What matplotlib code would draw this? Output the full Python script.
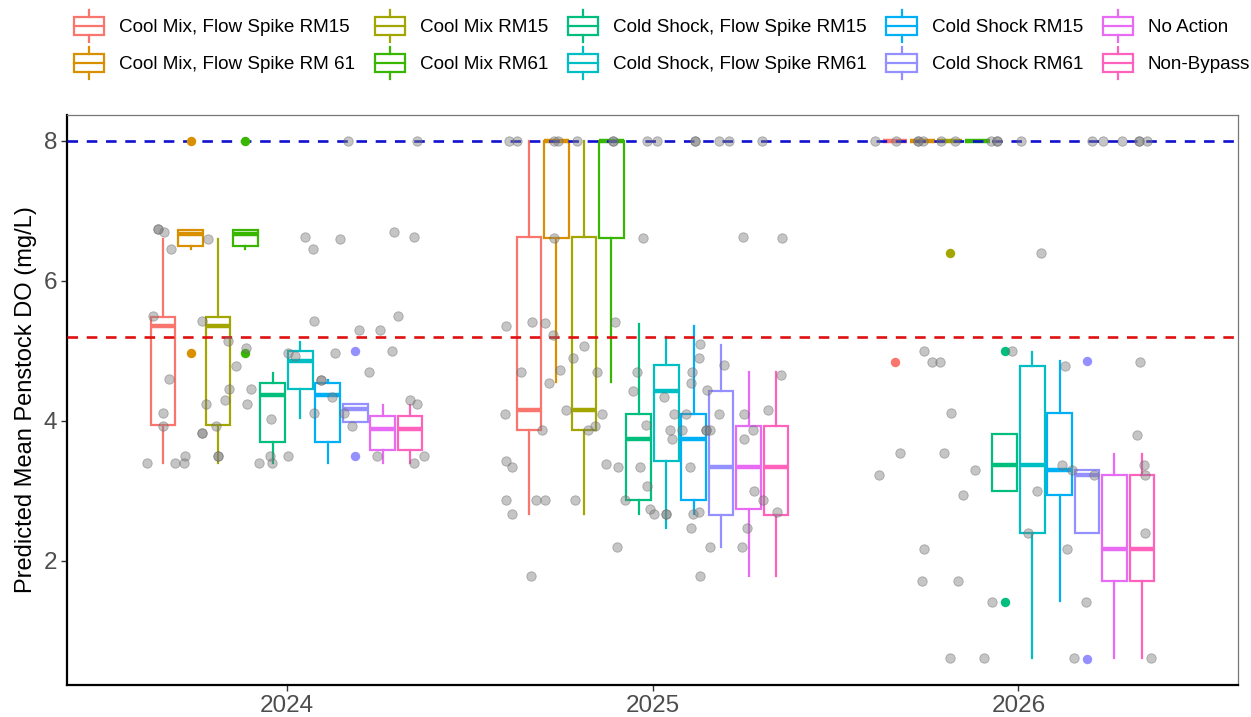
import numpy as np
import matplotlib.pyplot as plt
from matplotlib.patches import Patch, Rectangle
from matplotlib.lines import Line2D
from matplotlib.legend_handler import HandlerBase

plt.rcParams['font.family'] = ['Liberation Sans', 'DejaVu Sans']

years = ['2024', '2025', '2026']
groups = ['Cool Mix, Flow Spike RM15', 'Cool Mix, Flow Spike RM 61', 'Cool Mix RM15',
          'Cool Mix RM61', 'Cold Shock, Flow Spike RM15', 'Cold Shock, Flow Spike RM61',
          'Cold Shock RM15', 'Cold Shock RM61', 'No Action', 'Non-Bypass']
colors = ['#F8766D', '#D89000', '#A3A500', '#39B600', '#00BF7D',
          '#00BFC4', '#00B0F6', '#9590FF', '#E76BF3', '#FF62BC']

# box stats, one row per year, one value per group
q1 = [[3.94, 6.49, 3.94, 6.49, 3.70, 4.45, 3.70, 3.98, 3.58, 3.58],
      [3.87, 6.61, 3.87, 6.61, 2.87, 3.42, 2.87, 2.65, 2.74, 2.65],
      [8.00, 8.00, 8.00, 8.00, 3.00, 2.39, 2.94, 2.39, 1.71, 1.71]]
med = [[5.36, 6.67, 5.36, 6.67, 4.37, 4.85, 4.37, 4.17, 3.88, 3.88],
       [4.15, 8.00, 4.15, 8.00, 3.74, 4.43, 3.74, 3.33, 3.33, 3.33],
       [8.00, 8.00, 8.00, 8.00, 3.37, 3.37, 3.30, 3.22, 2.16, 2.16]]
q3 = [[5.48, 6.73, 5.48, 6.73, 4.54, 5.00, 4.54, 4.24, 4.06, 4.06],
      [6.63, 8.00, 6.63, 8.00, 4.09, 4.80, 4.09, 4.43, 3.93, 3.93],
      [8.00, 8.00, 8.00, 8.00, 3.81, 4.78, 4.11, 3.30, 3.22, 3.22]]
whislo = [[3.39, 6.46, 3.39, 6.46, 3.39, 4.04, 3.39, 3.98, 3.40, 3.40],
          [2.66, 4.55, 2.66, 4.55, 2.66, 2.46, 2.66, 2.20, 1.78, 1.78],
          [8.00, 8.00, 8.00, 8.00, 3.00, 0.61, 1.42, 2.39, 0.61, 0.61]]
whishi = [[6.59, 6.73, 6.59, 6.73, 4.68, 5.13, 4.58, 4.24, 4.23, 4.23],
          [8.00, 8.00, 8.00, 8.00, 5.38, 5.19, 5.35, 5.08, 4.70, 4.70],
          [8.00, 8.00, 8.00, 8.00, 3.81, 4.98, 4.85, 3.30, 3.53, 3.53]]

out_year = [0, 0, 0, 0, 0, 0, 2, 2, 2, 2, 2, 2]
out_group = [1, 1, 3, 3, 7, 7, 0, 2, 4, 4, 7, 7]
out_value = [8.0, 4.96, 8.0, 4.96, 5.0, 3.49, 4.84, 6.39, 5.0, 1.41, 4.85, 0.59]

# raw runs (jitter offset, DO)
gray_2024 = [(-0.352, 6.74), (-0.352, 6.74), (-0.334, 6.70), (-0.316, 6.45), (-0.214, 6.60),
             (0.051, 6.63), (0.071, 6.45), (0.147, 6.60), (0.293, 6.70), (0.349, 6.63),
             (0.167, 8.0), (0.356, 8.0), (-0.366, 5.50), (-0.230, 5.42), (0.075, 5.42),
             (0.304, 5.50), (0.197, 5.30), (0.255, 5.30), (-0.160, 5.14), (0.288, 5.00),
             (-0.111, 5.04), (0.005, 4.96), (0.024, 4.92), (0.132, 4.96), (-0.137, 4.78),
             (0.226, 4.69), (-0.321, 4.60), (-0.158, 4.45), (-0.096, 4.45), (0.093, 4.58),
             (0.093, 4.58), (0.123, 4.34), (-0.169, 4.29), (-0.220, 4.24), (-0.108, 4.24),
             (0.336, 4.29), (0.356, 4.24), (0.158, 4.11), (0.075, 4.11), (-0.337, 4.11),
             (-0.042, 4.03), (0.179, 3.93), (-0.337, 3.93), (-0.192, 3.93), (-0.230, 3.82),
             (-0.230, 3.82), (-0.278, 3.49), (-0.187, 3.49), (-0.187, 3.49), (-0.046, 3.49),
             (0.005, 3.49), (0.247, 3.49), (0.376, 3.49), (-0.382, 3.39), (-0.304, 3.39),
             (-0.279, 3.39), (-0.076, 3.39), (-0.040, 3.39), (0.349, 3.39)]
gray_2025 = [(-0.392, 8.0), (-0.370, 8.0), (-0.270, 8.0), (-0.258, 8.0), (-0.207, 8.0),
             (-0.109, 8.0), (-0.109, 8.0), (-0.016, 8.0), (0.011, 8.0), (0.115, 8.0),
             (0.115, 8.0), (0.181, 8.0), (0.210, 8.0), (0.299, 8.0),
             (-0.270, 6.61), (-0.025, 6.61), (0.248, 6.63), (0.353, 6.61),
             (-0.399, 5.35), (-0.329, 5.41), (-0.293, 5.39), (-0.102, 5.41), (-0.272, 5.23),
             (-0.188, 5.06), (-0.217, 4.90), (-0.252, 4.73), (-0.358, 4.70), (-0.283, 4.54),
             (-0.152, 4.69), (-0.043, 4.70), (-0.052, 4.43), (0.131, 5.09), (0.128, 4.90),
             (0.196, 4.80), (0.109, 4.70), (0.105, 4.54), (0.149, 4.44), (0.351, 4.65),
             (0.031, 4.34), (-0.404, 4.09), (-0.236, 4.15), (-0.139, 4.09), (0.060, 4.09),
             (0.092, 4.09), (0.181, 4.09), (0.250, 4.09), (0.316, 4.15), (-0.301, 3.87),
             (-0.157, 3.93), (-0.175, 3.87), (-0.018, 3.94), (0.047, 3.87), (0.080, 3.87),
             (0.145, 3.87), (0.145, 3.87), (0.158, 3.87), (0.274, 3.87), (0.052, 3.74),
             (0.251, 3.74), (-0.399, 3.42), (-0.383, 3.33), (-0.127, 3.38), (-0.093, 3.33),
             (-0.035, 3.33), (0.103, 3.33), (-0.016, 3.06), (0.278, 3.00), (-0.399, 2.87),
             (-0.319, 2.87), (-0.293, 2.87), (-0.213, 2.87), (-0.074, 2.87), (0.302, 2.87),
             (-0.007, 2.74), (0.004, 2.66), (0.036, 2.66), (0.036, 2.66), (0.111, 2.66),
             (0.128, 2.70), (-0.383, 2.66), (0.339, 2.70), (0.104, 2.46), (0.257, 2.46),
             (-0.098, 2.19), (0.158, 2.19), (0.245, 2.19), (-0.331, 1.78), (0.129, 1.78)]
gray_2026 = [(-0.393, 8.0), (-0.335, 8.0), (-0.274, 8.0), (-0.274, 8.0), (-0.260, 8.0),
             (-0.212, 8.0), (-0.174, 8.0), (-0.074, 8.0), (-0.058, 8.0), (-0.058, 8.0),
             (0.007, 8.0), (0.202, 8.0), (0.232, 8.0), (0.283, 8.0), (0.329, 8.0),
             (0.329, 8.0), (0.351, 8.0),
             (-0.258, 4.99), (-0.237, 4.84), (-0.214, 4.84), (-0.017, 4.99), (0.126, 4.78),
             (0.332, 4.84), (0.062, 6.39), (-0.183, 4.11), (-0.323, 3.54), (-0.204, 3.54),
             (0.324, 3.80), (-0.380, 3.22), (-0.120, 3.29), (-0.151, 2.94), (0.051, 3.00),
             (0.120, 3.36), (0.146, 3.30), (0.207, 3.22), (0.342, 3.36), (0.347, 3.22),
             (0.347, 2.39), (0.025, 2.39), (-0.257, 2.16), (0.134, 2.16), (-0.263, 1.71),
             (-0.164, 1.71), (-0.072, 1.41), (0.184, 1.41), (-0.188, 0.60), (-0.094, 0.60),
             (0.152, 0.60), (0.362, 0.60)]
gray_points = [gray_2024, gray_2025, gray_2026]

target_hi = 8.0
target_lo = 5.2


class BoxKey(HandlerBase):
    def create_artists(self, legend, orig_handle, xdescent, ydescent, width, height, fontsize, trans):
        c = orig_handle.get_edgecolor()
        x0, y0 = -xdescent, -ydescent
        cx = x0 + width / 2
        rect = Rectangle((x0, y0 + 0.22 * height), width, 0.56 * height,
                         facecolor='white', edgecolor=c, lw=1.6, transform=trans)
        mid = Line2D([x0, x0 + width], [y0 + height / 2] * 2, color=c, lw=1.6, transform=trans)
        top = Line2D([cx, cx], [y0 + 0.78 * height, y0 + height], color=c, lw=1.6, transform=trans)
        bot = Line2D([cx, cx], [y0, y0 + 0.22 * height], color=c, lw=1.6, transform=trans)
        return [rect, mid, top, bot]


fig = plt.figure(figsize=(12.51, 7.17), dpi=100)
ax = fig.add_axes([67 / 1251, 32 / 717, (1238 - 67) / 1251, (685 - 115) / 717])

step = 0.075
for yi in range(len(years)):
    for g in range(len(groups)):
        pos = yi + 1 + (g - 4.5) * step
        st = dict(med=med[yi][g], q1=q1[yi][g], q3=q3[yi][g],
                  whislo=whislo[yi][g], whishi=whishi[yi][g], fliers=[])
        c = colors[g]
        ax.bxp([st], positions=[pos], widths=step * 0.9, showcaps=False, patch_artist=True,
               boxprops=dict(facecolor='white', edgecolor=c, lw=1.6),
               whiskerprops=dict(color=c, lw=1.6),
               medianprops=dict(color=c, lw=3.2, solid_capstyle='butt'))

for yi, g, v in zip(out_year, out_group, out_value):
    ax.scatter(yi + 1 + (g - 4.5) * step, v, s=46, color=colors[g], zorder=4, lw=0)

ax.axhline(target_hi, color='#1010D0', ls=(0, (4, 3.3)), lw=1.9, zorder=3)
ax.axhline(target_lo, color='#E01010', ls=(0, (4, 3.3)), lw=1.9, zorder=3)

for yi, pts in enumerate(gray_points):
    dx = np.array([p[0] for p in pts])
    yv = np.array([p[1] for p in pts])
    ax.scatter(yi + 1 + dx, yv, s=46, color='#7F7F7F', alpha=0.45, lw=0.6,
               edgecolor='#606060', zorder=5)

ax.set_xlim(0.4, 3.6)
ax.set_ylim(0.22, 8.37)
ax.set_xticks([1, 2, 3])
ax.set_xticklabels(years)
ax.set_yticks([2, 4, 6, 8])
ax.set_yticklabels(['2', '4', '6', '8'])
ax.tick_params(labelsize=17.5, labelcolor='#4D4D4D', color='#333333', length=4, width=1, pad=3)
ax.set_ylabel('Predicted Mean Penstock DO (mg/L)', fontsize=17, color='black', labelpad=5)
for s in ['left', 'bottom']:
    ax.spines[s].set_color('black')
    ax.spines[s].set_linewidth(1.6)
for s in ['top', 'right']:
    ax.spines[s].set_color('#777777')
    ax.spines[s].set_linewidth(0.9)

handles = [Patch(facecolor='white', edgecolor=c) for c in colors]
fig.legend(handles, groups, handler_map={Patch: BoxKey()}, ncol=5,
           loc='upper left', bbox_to_anchor=(74 / 1251, 1 - 10 / 717), frameon=False,
           fontsize=13.6, handlelength=1.6, handleheight=2.2, handletextpad=0.8,
           columnspacing=1.03, labelspacing=0.3, borderpad=0, borderaxespad=0)

fig.savefig('out.png', dpi=100)
